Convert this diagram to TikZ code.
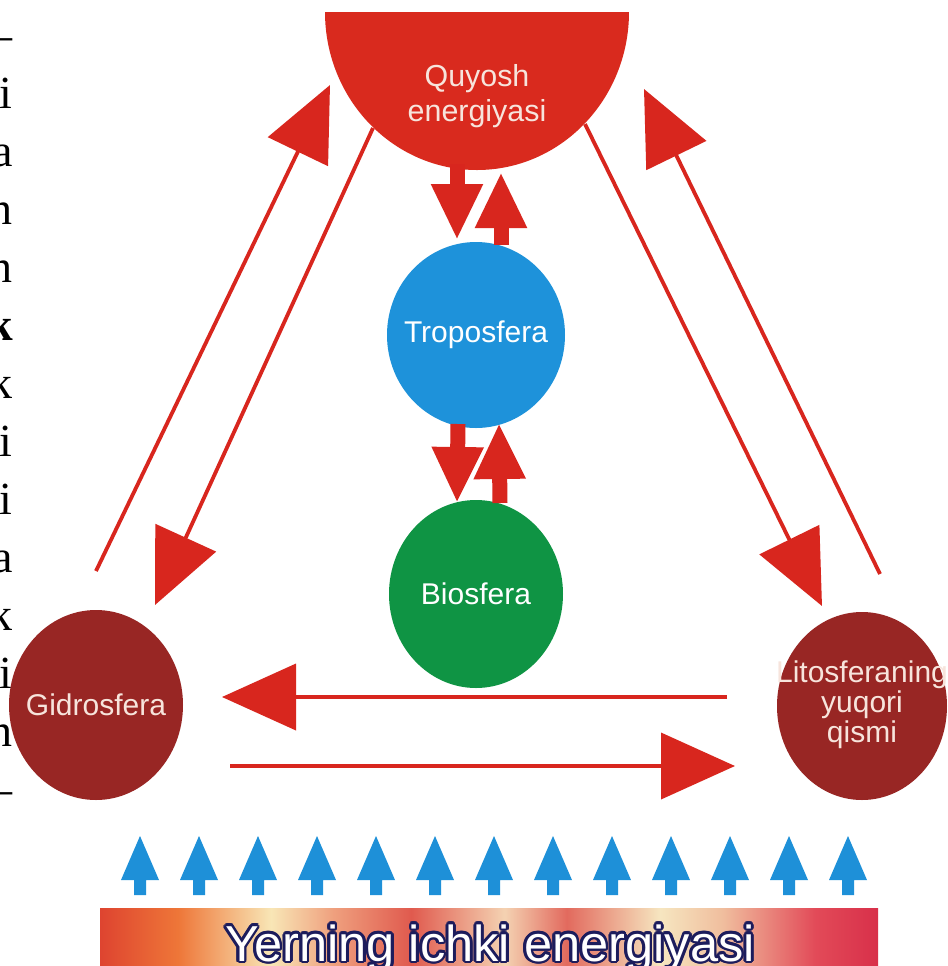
\documentclass[tikz,border=0pt]{standalone}
\usepackage{fontspec}
\setmainfont{Liberation Sans}
\newfontfamily\colfont{Liberation Serif}
\usetikzlibrary{arrows.meta,shapes.geometric}
\definecolor{sunred}{HTML}{D92A1E}
\definecolor{arrred}{HTML}{D8261E}
\definecolor{tropoblue}{HTML}{1E92DA}
\definecolor{biogreen}{HTML}{0F9444}
\definecolor{darkred}{HTML}{982624}
\definecolor{paletext}{HTML}{F7E4DC}
\definecolor{upblue}{HTML}{1E90D8}
\definecolor{navyline}{HTML}{1C1C5C}
\definecolor{ba}{HTML}{DE4430}
\definecolor{bb}{HTML}{EE7638}
\definecolor{bc}{HTML}{F8E6B6}
\definecolor{bd}{HTML}{EFA07E}
\definecolor{be}{HTML}{E05A4E}
\definecolor{bf}{HTML}{F4D2B2}
\definecolor{bg}{HTML}{E26A5E}
\definecolor{bh}{HTML}{F6E6C0}
\definecolor{bi}{HTML}{F0BE9E}
\definecolor{bj}{HTML}{E24A58}
\definecolor{bk}{HTML}{D8304A}
\pgfdeclarehorizontalshading{earthbar}{100bp}{color(0bp)=(ba); color(25bp)=(ba); color(30bp)=(bb); color(36bp)=(bc); color(40bp)=(bd); color(45bp)=(be); color(51bp)=(bf); color(55bp)=(bg); color(61bp)=(bh); color(65bp)=(bi); color(71bp)=(bj); color(75bp)=(bk); color(100bp)=(bk)}
\newcommand{\zerow}[1]{\makebox[0pt][c]{#1}}
\tikzset{
  sphere/.style={ellipse, inner sep=0pt, font=\fontsize{15}{15}\selectfont},
  blockarrow/.style={draw=arrred, line width=7.5pt, -{Triangle[width=24pt,length=28pt]}},
  thinarrow/.style={draw=arrred, line width=1.9pt, -{Triangle[width=33pt,length=37pt]}},
  colchar/.style={anchor=base east, inner sep=0pt, font=\colfont\fontsize{23}{23}\selectfont},
  bartext/.style={anchor=base, inner sep=0pt, font=\fontsize{25.3}{25.3}\selectfont}
}
\begin{document}
\begin{tikzpicture}[x=0.5pt,y=-0.5pt]
\clip (0,0) rectangle (948,966);
\fill[white] (0,0) rectangle (948,966);
% left text column
\foreach \c [count=\i from 0] in {–,i,a,n,n,\textbf{k},k,i,i,a,k,i,n,–}
  \node[colchar] (col\i) at (13,{50+58*\i}) {\c};
% sun
\fill[sunred] (325,12) -- (629,12) arc[start angle=0, end angle=180, x radius=152, y radius=158] -- cycle;
\node[text=paletext, align=center, font=\fontsize{15.2}{17.5}\selectfont] (sun) at (477,96) {Quyosh\\energiyasi};
% spheres
\node[sphere, fill=tropoblue, text=white, minimum width=89pt, minimum height=93pt] (tropo) at (476,335) {\zerow{Troposfera}};
\node[sphere, fill=biogreen, text=white, minimum width=87pt, minimum height=94pt] (bio) at (476,594) {\zerow{Biosfera}};
\node[sphere, fill=darkred, text=paletext, minimum width=87pt, minimum height=95pt] (gidro) at (96,705) {\zerow{Gidrosfera}};
\node[sphere, fill=darkred, text=paletext, minimum width=85pt, minimum height=94pt, font=\fontsize{15}{14.5}\selectfont] (lito) at (862,706) {\zerow{\begin{tabular}{@{}c@{}}Litosferaning\\yuqori\\qismi\end{tabular}}};
% block arrows
\coordinate (a1s) at (457,164); \coordinate (a1e) at (457,240);
\coordinate (a2s) at (501,245); \coordinate (a2e) at (501,172);
\coordinate (a3s) at (458,424); \coordinate (a3e) at (457,503);
\coordinate (a4s) at (500,503); \coordinate (a4e) at (499,423);
\draw[blockarrow] (a1s) -- (a1e);
\draw[blockarrow] (a2s) -- (a2e);
\draw[blockarrow] (a3s) -- (a3e);
\draw[blockarrow] (a4s) -- (a4e);
% long arrows
\coordinate (l1s) at (96,571);  \coordinate (l1e) at (330,85);
\coordinate (l2s) at (373,128); \coordinate (l2e) at (155,605);
\coordinate (r1s) at (585,124); \coordinate (r1e) at (822,606);
\coordinate (r2s) at (880,574); \coordinate (r2e) at (644,89);
\coordinate (h1s) at (727,697); \coordinate (h1e) at (222,697);
\coordinate (h2s) at (230,766); \coordinate (h2e) at (735,766);
\draw[thinarrow] (l1s) -- (l1e);
\draw[thinarrow] (l2s) -- (l2e);
\draw[thinarrow] (r1s) -- (r1e);
\draw[thinarrow] (r2s) -- (r2e);
\draw[thinarrow] (h1s) -- (h1e);
\draw[thinarrow] (h2s) -- (h2e);
% blue upward arrows
\foreach \k in {0,...,12}{
  \fill[upblue] ({140+59*\k},836) -- ({159+59*\k},880) -- ({146+59*\k},880) -- ({146+59*\k},895)
    -- ({134+59*\k},895) -- ({134+59*\k},880) -- ({121+59*\k},880) -- cycle;
}
% bottom bar
\shade[shading=earthbar] (100,908) rectangle (878,975);
\foreach \a in {0,22.5,...,337.5}
  \node[bartext, text=navyline, xshift={1.3pt*cos(\a)}, yshift={1.3pt*sin(\a)}] at (490,961) {Yerning ichki energiyasi};
\node[bartext, text=white] (yer) at (490,961) {Yerning ichki energiyasi};
\end{tikzpicture}
\end{document}
